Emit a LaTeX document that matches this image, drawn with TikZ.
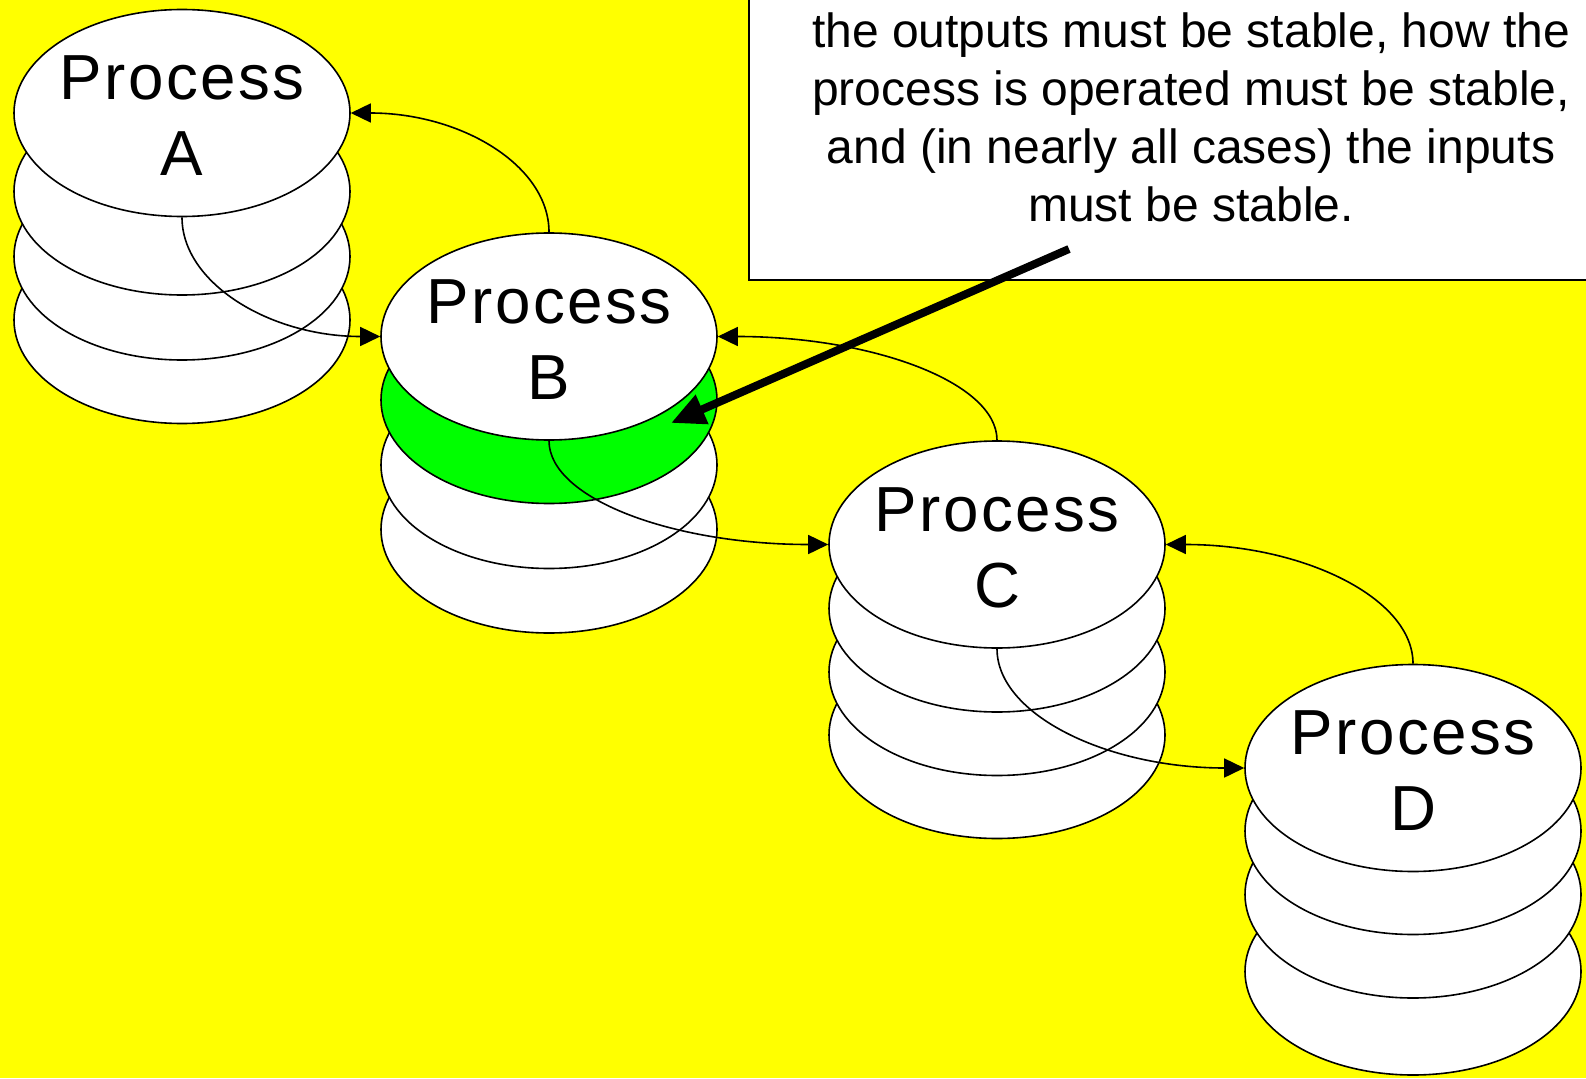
\documentclass[tikz,border=0pt]{standalone}
\usepackage{fontspec}
\setmainfont{Liberation Sans}
\newfontfamily\procfont[LetterSpace=4]{Liberation Sans}
\usetikzlibrary{shapes.geometric,arrows.meta,calc}
\definecolor{bgyellow}{RGB}{255,255,0}
\definecolor{layergreen}{RGB}{0,255,0}
\begin{document}
\begin{tikzpicture}[x=1pt,y=-1pt,
  disc/.style={ellipse,draw,fill=white,line width=1.6pt,minimum width=336pt,minimum height=207pt,inner sep=0pt},
  proc/.style={align=center,font=\procfont\fontsize{63.7}{76}\selectfont,inner sep=0pt,yshift=-3pt},
  notebox/.style={draw,fill=white,line width=1.6pt},
  notetext/.style={align=center,font=\fontsize{48}{58}\selectfont,inner sep=0pt},
  flow/.style={line width=1.6pt,-{Triangle[length=20pt,width=19pt]}},
  pointer/.style={line width=8pt,-{Triangle[length=34pt,width=30pt]}}
  ]
    \useasboundingbox (0,0) rectangle (1586,1078);
    \fill[bgyellow] (0,0) rectangle (1586,1078);

    % stack A
    \node[disc] (a4) at (182,320) {};
    \node[disc] (a3) at (182,256.5) {};
    \node[disc] (a2) at (182,191.5) {};
    \node[disc] (a1) at (182,113) {};
    \node[proc] (ta) at (a1) {Process\\A};

    % stack B
    \node[disc] (b4) at (549,529.5) {};
    \node[disc] (b3) at (549,465) {};
    \node[disc,fill=layergreen] (b2) at (549,400) {};
    \node[disc] (b1) at (549,336.5) {};
    \node[proc] (tb) at (b1) {Process\\B};

    % stack C
    \node[disc] (c4) at (997,735) {};
    \node[disc] (c3) at (997,672) {};
    \node[disc] (c2) at (997,608.5) {};
    \node[disc] (c1) at (997,544.5) {};
    \node[proc] (tc) at (c1) {Process\\C};

    % stack D
    \node[disc] (d4) at (1413,971.5) {};
    \node[disc] (d3) at (1413,894.5) {};
    \node[disc] (d2) at (1413,831) {};
    \node[disc] (d1) at (1413,768) {};
    \node[proc] (td) at (d1) {Process\\D};

    % feedback up, flow down
    \draw[flow] (b1.north) .. controls ($(b1.north)+(0,-67)$) and ($(a1.east)+(110,0)$) .. (a1.east);
    \draw[flow] (c1.north) .. controls ($(c1.north)+(0,-58)$) and ($(b1.east)+(154,0)$) .. (b1.east);
    \draw[flow] (d1.north) .. controls ($(d1.north)+(0,-66)$) and ($(c1.east)+(137,0)$) .. (c1.east);
    \draw[flow] (a1.south) .. controls ($(a1.south)+(0,66)$) and ($(b1.west)+(-110,0)$) .. (b1.west);
    \draw[flow] (b1.south) .. controls ($(b1.south)+(0,58)$) and ($(c1.west)+(-155,0)$) .. (c1.west);
    \draw[flow] (c1.south) .. controls ($(c1.south)+(0,66)$) and ($(d1.west)+(-137,0)$) .. (d1.west);

    % note
    \draw[notebox] (749,-40) rectangle (1650,280);
    \node[notetext,anchor=south] (note) at (1191,222) {the outputs must be stable, how the\\process is operated must be stable,\\and (in nearly all cases) the inputs\\must be stable.};
    \coordinate (from) at (1069,249);
    \coordinate (tip) at (671,423);
    \draw[pointer] (from) -- (tip);
\end{tikzpicture}
\end{document}
